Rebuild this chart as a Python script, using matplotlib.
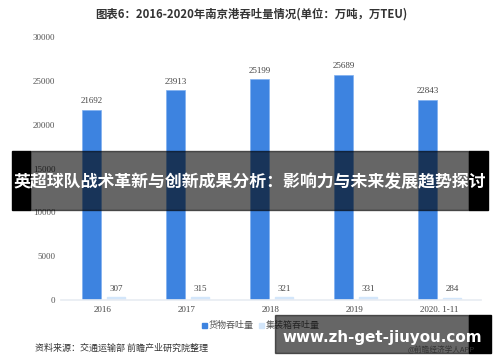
import numpy as np
import matplotlib
matplotlib.use('Agg')
import matplotlib.pyplot as plt
from matplotlib.patches import Rectangle

plt.rcParams['font.family'] = ['Noto Sans CJK SC', 'DejaVu Sans']

# data
years = ['2016', '2017', '2018', '2019', '2020. 1-11']
cargo = [21692, 23913, 25199, 25689, 22843]       # 货物吞吐量 (万吨)
container = [307, 315, 321, 331, 284]             # 集装箱吞吐量 (万TEU)
yticks = [0, 5000, 10000, 15000, 20000, 25000, 30000]

title = '图表6：2016-2020年南京港吞吐量情况(单位：万吨，万TEU)'
source = '资料来源：交通运输部 前瞻产业研究院整理'
banner = '英超球队战术革新与创新成果分析：影响力与未来发展趋势探讨'
url = 'www.zh-get-jiuyou.com'

dark = '#3d83e0'
light = '#d3e6fa'
serif = 'Liberation Serif'

fig = plt.figure(figsize=(5, 3.62), dpi=100)
ax = fig.add_axes([0.122, 0.171, 0.84, 0.727])

x = np.arange(len(years))
w = 0.225
ax.bar(x - 0.137, cargo, w, color=dark, edgecolor='#7fb0ef', linewidth=0.5)
ax.bar(x + 0.155, container, w, color=light, edgecolor=light)

for xi, v in zip(x, cargo):
    ax.text(xi - 0.137, v + 500, str(v), ha='center', va='bottom',
            fontsize=6.5, family=serif, color='#444444')
for xi, v in zip(x, container):
    ax.text(xi + 0.155, v + 500, str(v), ha='center', va='bottom',
            fontsize=6.5, family=serif, color='#444444')

ax.set_xlim(-0.5, 4.5)
ax.set_ylim(0, 30000)
ax.set_yticks(yticks)
ax.set_yticklabels([str(t) for t in yticks], family=serif, fontsize=6.5, color='#555555')
ax.set_xticks(x)
ax.set_xticklabels(years, family=serif, fontsize=6.5, color='#444444')
ax.tick_params(length=0, pad=4)
ax.tick_params(axis='y', pad=4)
for s in ['top', 'right', 'left']:
    ax.spines[s].set_visible(False)
ax.spines['bottom'].set_color('#e8ecf2')
ax.spines['bottom'].set_linewidth(1.2)

fig.text(0.19, 0.96, title, fontsize=8.2, fontweight='bold', color='#333333',
         ha='left', va='center')

# legend
fig.patches.append(Rectangle((0.403, 0.094), 0.01, 0.014, transform=fig.transFigure,
                             color=dark))
fig.text(0.417, 0.101, '货物吞吐量', fontsize=6.5, color='#555555', va='center')
fig.patches.append(Rectangle((0.518, 0.094), 0.01, 0.014, transform=fig.transFigure,
                             color=light))
fig.text(0.532, 0.101, '集装箱吞吐量', fontsize=6.5, color='#555555', va='center')

fig.text(0.07, 0.038, source, fontsize=6.5, color='#333333', va='center')

# overlay banner
fig.patches.append(Rectangle((0.024, 0.42), 0.036, 0.163, transform=fig.transFigure,
                             color='black', zorder=10))
fig.patches.append(Rectangle((0.938, 0.42), 0.038, 0.163, transform=fig.transFigure,
                             color='black', zorder=10))
fig.patches.append(Rectangle((0.06, 0.42), 0.878, 0.163, transform=fig.transFigure,
                             color='black', alpha=0.6, zorder=11))
fig.text(0.5, 0.497, banner, fontsize=12.2, fontweight='bold', color='white',
         ha='center', va='center', zorder=12)

# bottom overlay
fig.patches.append(Rectangle((0.938, 0.025), 0.044, 0.105, transform=fig.transFigure,
                             color='black', zorder=10))
fig.patches.append(Rectangle((0.55, 0.025), 0.388, 0.105, transform=fig.transFigure,
                             color='black', alpha=0.6, zorder=11))
fig.text(0.764, 0.069, url, fontsize=10.9, fontweight='bold', color='white',
         ha='center', va='center', family='DejaVu Sans', zorder=12)
fig.text(0.883, 0.033, '@前瞻经济学人APP', fontsize=5.5, color='#333333',
         ha='center', va='center', zorder=12)

fig.savefig('out.png', dpi=100)
